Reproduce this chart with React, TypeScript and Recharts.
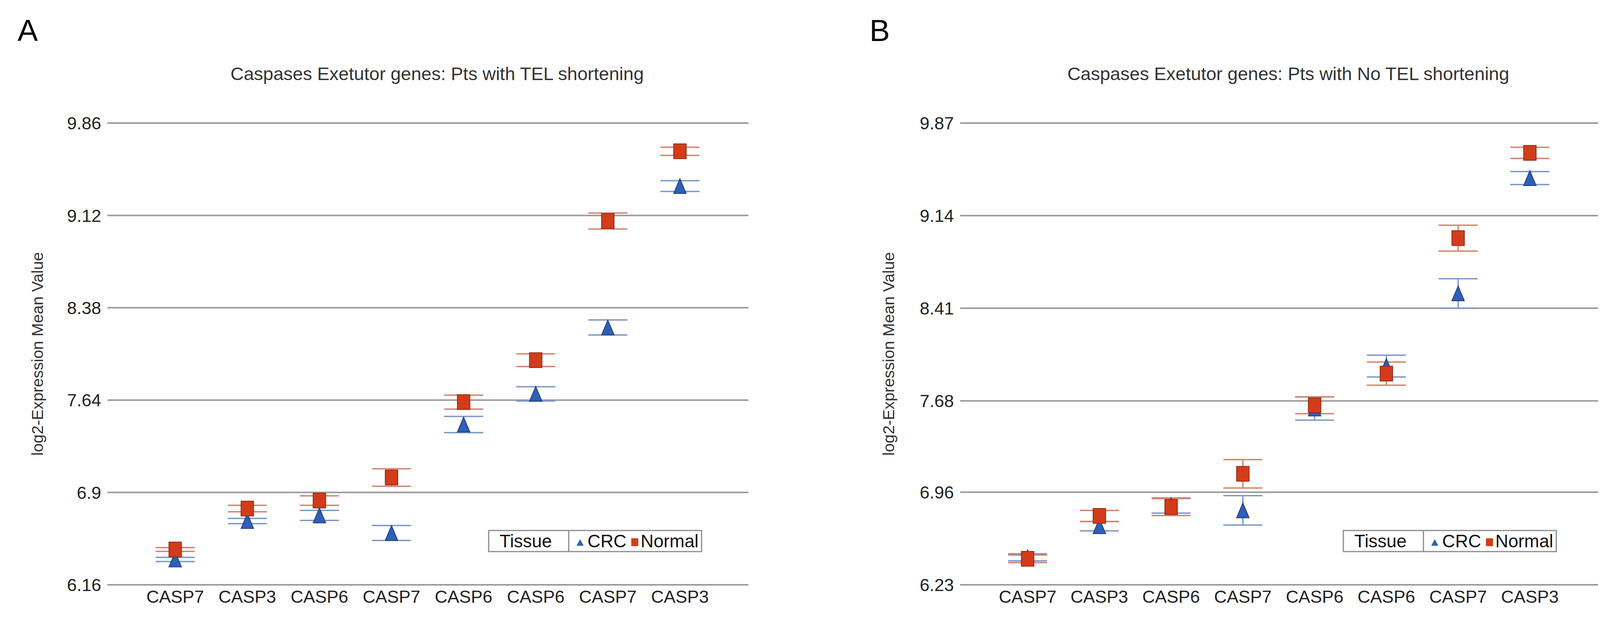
import { CartesianGrid, ErrorBar, Scatter, ScatterChart, XAxis, YAxis } from "recharts";

const categories = ["CASP7", "CASP3", "CASP6", "CASP7", "CASP6", "CASP6", "CASP7", "CASP3"];

// panel A: Pts with TEL shortening
const ticksA = [6.16, 6.9, 7.64, 8.38, 9.12, 9.86];
const crcA = [6.363, 6.671, 6.716, 6.575, 7.444, 7.69, 8.222, 9.355];
const crcErrA = [0.017, 0.021, 0.04, 0.06, 0.065, 0.057, 0.06, 0.043];
const normalA = [6.443, 6.771, 6.835, 7.02, 7.624, 7.96, 9.075, 9.634];
const normalErrA = [0.015, 0.026, 0.038, 0.07, 0.056, 0.051, 0.064, 0.033];

// panel B: Pts with No TEL shortening
const ticksB = [6.23, 6.96, 7.68, 8.41, 9.14, 9.87];
const crcB = [6.447, 6.692, 6.855, 6.817, 7.62, 7.954, 8.527, 9.436];
const crcErrB = [0.028, 0.037, 0.06, 0.116, 0.092, 0.086, 0.116, 0.051];
const normalB = [6.435, 6.773, 6.843, 7.105, 7.645, 7.895, 8.963, 9.635];
const normalErrB = [0.03, 0.044, 0.067, 0.112, 0.066, 0.091, 0.102, 0.044];

const FONT = "'Liberation Sans', Arial, sans-serif";
const CRC_FILL = "#2f5fb8";
const CRC_EDGE = "#1d3b78";
const CRC_BAR = "#7a97c9";
const NORMAL_FILL = "#d23c1a";
const NORMAL_EDGE = "#8e2a12";
const NORMAL_BAR = "#d5826c";

function toPoints(values: number[], errs: number[]) {
  return values.map((v, i) => ({ x: i, y: v, err: errs[i] }));
}

const SquareShape = (props: any) => {
  const { cx, cy } = props;
  return <rect x={cx - 16} y={cy - 19} width={32} height={38} fill={NORMAL_FILL} stroke={NORMAL_EDGE} strokeWidth={2} />;
};

const TriangleShape = (props: any) => {
  const { cx, cy } = props;
  return (
    <polygon
      points={`${cx},${cy - 19} ${cx + 16},${cy + 19} ${cx - 16},${cy + 19}`}
      fill={CRC_FILL}
      stroke={CRC_EDGE}
      strokeWidth={2}
    />
  );
};

const XTick = (props: any) => {
  const { x, y, payload } = props;
  return (
    <text x={x} y={y + 46} textAnchor="middle" fontSize={45} fontFamily={FONT} fill="#222">
      {categories[payload.value]}
    </text>
  );
};

const YTick = (props: any) => {
  const { x, y, payload } = props;
  return (
    <text x={x - 16} y={y} dy="0.36em" textAnchor="end" fontSize={45} fontFamily={FONT} fill="#222">
      {String(payload.value)}
    </text>
  );
};

type PanelProps = {
  left: number;
  plotWidth: number;
  ticks: number[];
  crc: number[];
  crcErr: number[];
  normal: number[];
  normalErr: number[];
};

function Panel({ left, plotWidth, ticks, crc, crcErr, normal, normalErr }: PanelProps) {
  const yAxisWidth = 275;
  const rightMargin = 75;
  return (
    <div style={{ position: "absolute", left, top: 0 }}>
      <ScatterChart
        width={yAxisWidth + plotWidth + rightMargin}
        height={1582}
        margin={{ top: 315, right: rightMargin, bottom: 0, left: 0 }}
      >
        <CartesianGrid vertical={false} stroke="#9b9b9b" strokeWidth={4} />
        <XAxis
          type="number"
          dataKey="x"
          domain={[-0.94, 7.95]}
          ticks={[0, 1, 2, 3, 4, 5, 6, 7]}
          height={85}
          axisLine={false}
          tickLine={false}
          tickSize={0}
          tickMargin={0}
          tick={<XTick />}
          interval={0}
        />
        <YAxis
          type="number"
          dataKey="y"
          domain={[ticks[0], ticks[ticks.length - 1]]}
          ticks={ticks}
          width={yAxisWidth}
          axisLine={false}
          tickLine={false}
          tickSize={0}
          tickMargin={0}
          tick={<YTick />}
          interval={0}
        />
        <Scatter data={toPoints(crc, crcErr)} shape={TriangleShape} isAnimationActive={false}>
          <ErrorBar dataKey="err" direction="y" width={50} stroke={CRC_BAR} strokeWidth={3.5} />
        </Scatter>
        <Scatter data={toPoints(normal, normalErr)} shape={SquareShape} isAnimationActive={false}>
          <ErrorBar dataKey="err" direction="y" width={50} stroke={NORMAL_BAR} strokeWidth={3.5} />
        </Scatter>
      </ScatterChart>
    </div>
  );
}

function Legend({ x }: { x: number }) {
  return (
    <g fontFamily={FONT} fontSize={46} fill="#111">
      <rect x={x} y={1358} width={545} height={54} fill="#fff" stroke="#8a8a8a" strokeWidth={3} />
      <line x1={x + 205} y1={1358} x2={x + 205} y2={1412} stroke="#8a8a8a" strokeWidth={3} />
      <text x={x + 28} y={1401}>Tissue</text>
      <polygon points={`${x + 234},${1380} ${x + 243},${1397} ${x + 225},${1397}`} fill={CRC_FILL} />
      <text x={x + 253} y={1401}>CRC</text>
      <rect x={x + 365} y={1378} width={18} height={20} fill={NORMAL_FILL} />
      <text x={x + 389} y={1401}>Normal</text>
    </g>
  );
}

export default function App() {
  return (
    <div style={{ position: "absolute", left: 0, top: 0, width: 4171, height: 1582, background: "#fff" }}>
      <Panel left={0} plotWidth={1641} ticks={ticksA} crc={crcA} crcErr={crcErrA} normal={normalA} normalErr={normalErrA} />
      <Panel left={2183} plotWidth={1633} ticks={ticksB} crc={crcB} crcErr={crcErrB} normal={normalB} normalErr={normalErrB} />
      <svg
        width={4171}
        height={1582}
        style={{ position: "absolute", left: 0, top: 0, pointerEvents: "none" }}
      >
        <text x={45} y={105} fontFamily={FONT} fontSize={78} fill="#000">A</text>
        <text x={2226} y={105} fontFamily={FONT} fontSize={78} fill="#000">B</text>
        <text x={1119} y={205} textAnchor="middle" fontFamily={FONT} fontSize={47} fill="#333">
          Caspases Exetutor genes: Pts with TEL shortening
        </text>
        <text x={3298} y={205} textAnchor="middle" fontFamily={FONT} fontSize={47} fill="#333">
          Caspases Exetutor genes: Pts with No TEL shortening
        </text>
        <text
          transform="translate(110, 906) rotate(-90)"
          textAnchor="middle"
          fontFamily={FONT}
          fontSize={41}
          fill="#333"
        >
          log2-Expression Mean Value
        </text>
        <text
          transform="translate(2289, 906) rotate(-90)"
          textAnchor="middle"
          fontFamily={FONT}
          fontSize={41}
          fill="#333"
        >
          log2-Expression Mean Value
        </text>
        <Legend x={1251} />
        <Legend x={3439} />
      </svg>
    </div>
  );
}
